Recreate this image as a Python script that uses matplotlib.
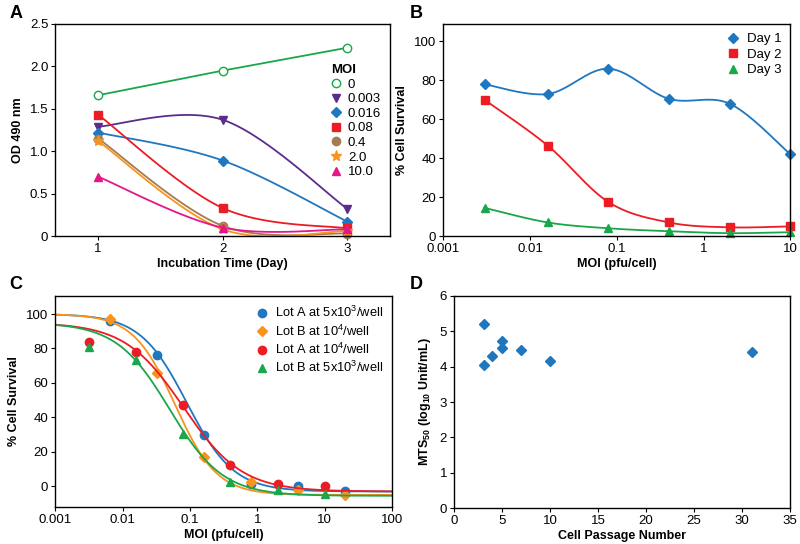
import numpy as np
import matplotlib
matplotlib.use("Agg")
import matplotlib.pyplot as plt

plt.rcParams['font.family'] = ['Liberation Sans', 'DejaVu Sans']
plt.rcParams['font.size'] = 9.5
plt.rcParams['mathtext.default'] = 'regular'

# ---- panel A data ----
days = [1, 2, 3]
moi_labels = ['0', '0.003', '0.016', '0.08', '0.4', '2.0', '10.0']
od_0 = [1.66, 1.95, 2.22]
od_0003 = [1.29, 1.37, 0.32]
od_0016 = [1.22, 0.89, 0.17]
od_008 = [1.43, 0.33, 0.09]
od_04 = [1.15, 0.12, 0.03]
od_2 = [1.12, 0.08, 0.06]
od_10 = [0.70, 0.10, 0.08]

# ---- panel B data ----
moi_b = [0.003, 0.016, 0.08, 0.4, 2, 10]
day1 = [78, 73, 86, 70.5, 68, 42]
day2 = [70, 46.5, 17.5, 7, 4.5, 5]
day3 = [14.5, 7, 4, 2.5, 1.5, 2]

# ---- panel C data ----
moi_c1 = [0.0064, 0.032, 0.16, 0.8, 4, 20]
moi_c2 = [0.0032, 0.016, 0.08, 0.4, 2, 10]
lotA_5e3 = [96, 76.5, 30, 1.5, 0, -2.5]
lotB_1e4 = [97, 65.5, 17, 2.5, -2, -5]
lotA_1e4 = [84, 78, 47, 12.5, 1.5, 0]
lotB_5e3 = [81, 73.5, 30.5, 2.5, -2, -4.5]
# 4PL fit params: top, bottom, ec50, hill
fit_lotA_5e3 = [100, -3, 0.09, 1.25]
fit_lotB_1e4 = [100, -5, 0.06, 1.4]
fit_lotA_1e4 = [95, -3, 0.08, 1.0]
fit_lotB_5e3 = [95, -5.5, 0.05, 1.1]

# ---- panel D data ----
passage = [3.1, 3.1, 4, 5, 5, 7, 10, 31]
mts50 = [5.2, 4.05, 4.3, 4.72, 4.53, 4.48, 4.15, 4.42]

GREEN = '#1aa64a'
PURPLE = '#5a2d8c'
BLUE = '#1f77c0'
RED = '#ec1c24'
BROWN = '#a57c52'
ORANGE = '#f7941d'
MAGENTA = '#e5168a'

LABEL_FS = 9


def smooth(x, y, n=40):
    # excel-like bezier smoothing through the points
    P = np.column_stack([np.asarray(x, float), np.asarray(y, float)])
    out = []
    for i in range(len(P) - 1):
        prev = P[i - 1] if i > 0 else P[i]
        nxt = P[i + 2] if i + 2 < len(P) else P[i + 1]
        c1 = P[i] + (P[i + 1] - prev) / 6
        c2 = P[i + 1] - (nxt - P[i]) / 6
        t = np.linspace(0, 1, n)[:, None]
        seg = ((1 - t) ** 3 * P[i] + 3 * (1 - t) ** 2 * t * c1
               + 3 * (1 - t) * t ** 2 * c2 + t ** 3 * P[i + 1])
        out.append(seg)
    out = np.vstack(out)
    return out[:, 0], out[:, 1]


def four_pl(x, p):
    top, bottom, ec50, hill = p
    return bottom + (top - bottom) / (1 + (x / ec50) ** hill)


def style(ax):
    for s in ax.spines.values():
        s.set_linewidth(1.0)
    ax.tick_params(direction='out', length=3, width=0.8, labelsize=9.5, pad=2)


fig = plt.figure(figsize=(8, 5.44), dpi=100)
axA = fig.add_axes([0.069, 0.566, 0.419, 0.39])
axB = fig.add_axes([0.554, 0.566, 0.434, 0.39])
axC = fig.add_axes([0.069, 0.068, 0.421, 0.388])
axD = fig.add_axes([0.5675, 0.066, 0.42, 0.39])

# ---- A ----
seriesA = [od_0, od_0003, od_0016, od_008, od_04, od_2, od_10]
colsA = [GREEN, PURPLE, BLUE, RED, BROWN, ORANGE, MAGENTA]
marksA = ['o', 'v', 'D', 's', 'o', '*', '^']
sizesA = [6, 6, 5, 5.5, 6, 8, 6]
for ys, c, m, ms, lab in zip(seriesA, colsA, marksA, sizesA, moi_labels):
    if lab == '0':
        axA.plot(days, ys, color=c, lw=1.3)
        axA.plot(days, ys, ls='none', marker=m, ms=ms, mfc='white', mec=c, mew=1.0, label=lab)
    else:
        xx, yy = smooth(days, ys)
        axA.plot(xx, yy, color=c, lw=1.3)
        axA.plot(days, ys, ls='none', marker=m, ms=ms, color=c, label=lab, clip_on=False)
axA.set_xlim(0.655, 3.345)
axA.set_ylim(0, 2.5)
axA.set_xticks([1, 2, 3])
axA.set_yticks([0, 0.5, 1.0, 1.5, 2.0, 2.5])
axA.set_yticklabels(['0', '0.5', '1.0', '1.5', '2.0', '2.5'])
axA.set_xlabel('Incubation Time (Day)', fontweight='bold', fontsize=LABEL_FS, labelpad=2)
axA.set_ylabel('OD 490 nm', fontweight='bold', fontsize=LABEL_FS, labelpad=4)
legA = axA.legend(title='MOI', loc='upper right', bbox_to_anchor=(1.0, 0.855), frameon=False,
                  handlelength=0.8, handletextpad=0.5, labelspacing=0.18, fontsize=9.5,
                  borderaxespad=0.3, title_fontproperties={'weight': 'bold', 'size': 9.5})
legA._legend_box.align = 'left'
style(axA)

# ---- B ----
for ys, c, m, lab in [(day1, BLUE, 'D', 'Day 1'), (day2, RED, 's', 'Day 2'), (day3, GREEN, '^', 'Day 3')]:
    lx, ly = smooth(np.log10(moi_b), ys)
    axB.plot(10 ** lx, ly, color=c, lw=1.3)
    axB.plot(moi_b, ys, ls='none', marker=m, ms=5.5, color=c, label=lab, clip_on=False)
axB.set_xscale('log')
axB.set_xlim(0.001, 10)
axB.set_ylim(0, 109)
axB.set_yticks([0, 20, 40, 60, 80, 100])
axB.set_xticks([0.001, 0.01, 0.1, 1, 10])
axB.set_xticklabels(['0.001', '0.01', '0.1', '1', '10'])
axB.minorticks_off()
axB.set_xlabel('MOI (pfu/cell)', fontweight='bold', fontsize=LABEL_FS, labelpad=2)
axB.set_ylabel('% Cell Survival', fontweight='bold', fontsize=LABEL_FS, labelpad=4)
axB.legend(loc='upper right', frameon=False, handlelength=0.8, handletextpad=0.6,
           labelspacing=0.25, fontsize=9.5, borderaxespad=0.3)
style(axB)

# ---- C ----
xfit = np.logspace(-3, 2, 300)
for xs, ys, p, c, m, lab in [
        (moi_c1, lotA_5e3, fit_lotA_5e3, BLUE, 'o', 'Lot A at 5x10$^3$/well'),
        (moi_c1, lotB_1e4, fit_lotB_1e4, ORANGE, 'D', 'Lot B at 10$^4$/well'),
        (moi_c2, lotA_1e4, fit_lotA_1e4, RED, 'o', 'Lot A at 10$^4$/well'),
        (moi_c2, lotB_5e3, fit_lotB_5e3, GREEN, '^', 'Lot B at 5x10$^3$/well')]:
    axC.plot(xfit, four_pl(xfit, p), color=c, lw=1.3)
    axC.plot(xs, ys, ls='none', marker=m, ms=6 if m != 'D' else 5, color=c, label=lab)
axC.set_xscale('log')
axC.set_xlim(0.001, 100)
axC.set_ylim(-12, 110.5)
axC.set_yticks([0, 20, 40, 60, 80, 100])
axC.set_xticks([0.001, 0.01, 0.1, 1, 10, 100])
axC.set_xticklabels(['0.001', '0.01', '0.1', '1', '10', '100'])
axC.minorticks_off()
axC.set_xlabel('MOI (pfu/cell)', fontweight='bold', fontsize=LABEL_FS, labelpad=2)
axC.set_ylabel('% Cell Survival', fontweight='bold', fontsize=LABEL_FS, labelpad=4)
axC.legend(loc='upper right', frameon=False, handlelength=0.8, handletextpad=0.6,
           labelspacing=0.25, fontsize=9.3, borderaxespad=0.3)
style(axC)

# ---- D ----
axD.plot(passage, mts50, ls='none', marker='D', ms=5.5, color=BLUE)
axD.set_xlim(0, 35)
axD.set_ylim(0, 6)
axD.set_xticks([0, 5, 10, 15, 20, 25, 30, 35])
axD.set_yticks([0, 1, 2, 3, 4, 5, 6])
axD.set_xlabel('Cell Passage Number', fontweight='bold', fontsize=LABEL_FS, labelpad=2)
axD.set_ylabel('MTS$_{50}$ (log$_{10}$ Unit/mL)', fontweight='bold', fontsize=LABEL_FS, labelpad=5)
style(axD)

for lab, x, y in [('A', 0.012, 0.99), ('B', 0.512, 0.99), ('C', 0.012, 0.493), ('D', 0.512, 0.493)]:
    fig.text(x, y, lab, fontsize=13, fontweight='bold', va='top', ha='left')

fig.savefig('out.png', dpi=100)
